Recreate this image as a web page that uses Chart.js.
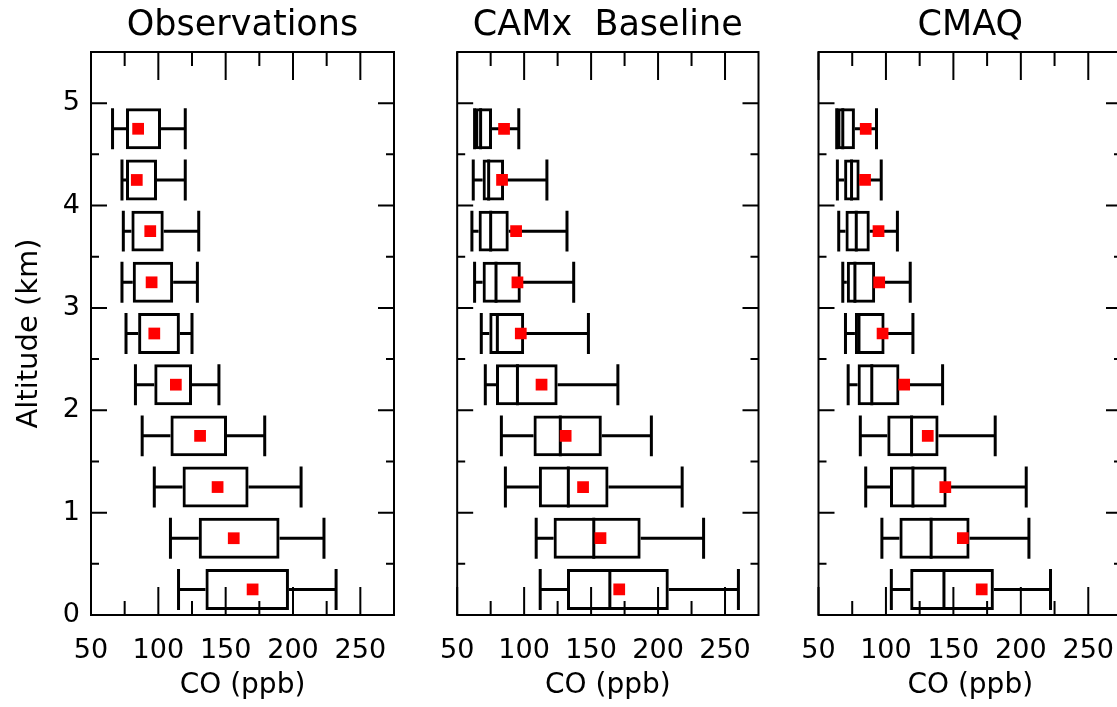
<!DOCTYPE html>
<html><head><meta charset="utf-8">
<script src="https://cdn.jsdelivr.net/npm/chart.js@4.4.1/dist/chart.umd.min.js"></script>
<style>
html,body{margin:0;padding:0;background:#fff;overflow:hidden;width:1117px;height:707px;}
canvas{position:absolute;top:0;}
</style></head><body>
<canvas id="p1" width="420" height="707" style="left:0px"></canvas>
<canvas id="p2" width="360" height="707" style="left:420px"></canvas>
<canvas id="p3" width="360" height="707" style="left:780px"></canvas>
<script>
// ---- data (altitude bins, km) ----
const altitudes = [0.25, 0.75, 1.25, 1.75, 2.25, 2.75, 3.25, 3.75, 4.25, 4.75];
const panelTitles = ['Observations', 'CAMx  Baseline', 'CMAQ'];
const xTickLabels = [50, 100, 150, 200, 250];
const xMinorTicks = [75, 125, 175, 225];
const yTickLabels = [0, 1, 2, 3, 4, 5];
const yMinorTicks = [0.5, 1.5, 2.5, 3.5, 4.5];

// Observations
const obsMin  = [115, 109, 97, 88, 83, 76, 73, 74, 73, 66];
const obsQ1   = [135, 130, 118, 109, 97, 85, 81, 80, 76, 76];
const obsMed  = [null, null, null, null, null, null, null, null, null, null];
const obsQ3   = [197, 190, 167, 151, 125, 116, 111, 104, 99, 102];
const obsMax  = [232, 223, 206, 179, 145, 125, 129, 130, 120, 120];
const obsMean = [170, 156, 144, 131, 113, 97, 95, 94, 84, 85];

// CAMx Baseline
const camxMin  = [112, 109, 86, 83, 71, 68, 63, 61, 62, 63];
const camxQ1   = [132, 122, 111, 107, 79, 74, 69, 66, 69, 63.5];
const camxMed  = [164, 152, 133, 127, 95, 80, 79, 75, 73.5, 67.5];
const camxQ3   = [208, 187, 163, 158, 125, 100, 97.5, 88.5, 85, 76];
const camxMax  = [260, 234, 218, 195, 170, 148, 137, 132, 117, 96];
const camxMean = [171, 157, 144, 131, 113, 97.5, 95, 94, 83.5, 85];

// CMAQ
const cmaqMin  = [104, 97, 85, 81, 72, 70, 68, 65, 64, 63.5];
const cmaqQ1   = [118, 110, 103, 101, 79, 77, 71, 70, 69, 64];
const cmaqMed  = [143, 133.5, 120, 119, 89.5, 80, 77, 78, 74.5, 68];
const cmaqQ3   = [180, 162, 145, 139, 110, 99, 92, 88, 80.5, 77];
const cmaqMax  = [222, 206, 204, 181, 142, 120, 118, 108.5, 96.5, 93];
const cmaqMean = [171, 157, 144, 131, 113.5, 97.5, 95, 94.5, 84.5, 85];

const FONT = 'DejaVu Sans';

const boxPlugin = {
  id: 'boxWhisker',
  beforeDatasetsDraw(chart, args, o) {
    const {ctx} = chart; const x = chart.scales.x, y = chart.scales.y;
    const half = Math.abs(y.getPixelForValue(o.halfHeight) - y.getPixelForValue(0));
    ctx.save();
    ctx.strokeStyle = '#000'; ctx.lineWidth = o.lineWidth; ctx.lineCap = 'butt';
    for (let i = 0; i < o.alt.length; i++) {
      const py = y.getPixelForValue(o.alt[i]);
      const pMin = x.getPixelForValue(o.min[i]), pQ1 = x.getPixelForValue(o.q1[i]);
      const pQ3 = x.getPixelForValue(o.q3[i]), pMax = x.getPixelForValue(o.max[i]);
      ctx.beginPath();
      ctx.moveTo(pMin, py); ctx.lineTo(pQ1, py);
      ctx.moveTo(pQ3, py); ctx.lineTo(pMax, py);
      ctx.moveTo(pMin, py - half); ctx.lineTo(pMin, py + half);
      ctx.moveTo(pMax, py - half); ctx.lineTo(pMax, py + half);
      if (o.med[i] !== null && o.med[i] !== undefined) {
        const pm = x.getPixelForValue(o.med[i]);
        ctx.moveTo(pm, py - half); ctx.lineTo(pm, py + half);
      }
      ctx.stroke();
    }
    ctx.restore();
  }
};

const framePlugin = {
  id: 'frame',
  afterDraw(chart, args, o) {
    const {ctx, chartArea: a} = chart; const x = chart.scales.x, y = chart.scales.y;
    ctx.save();
    ctx.strokeStyle = '#000'; ctx.lineWidth = 2;
    ctx.strokeRect(a.left, a.top, a.right - a.left, a.bottom - a.top);
    ctx.beginPath();
    const xt = (vals, len) => vals.forEach(v => {
      const px = x.getPixelForValue(v);
      ctx.moveTo(px, a.bottom); ctx.lineTo(px, a.bottom - len);
      ctx.moveTo(px, a.top); ctx.lineTo(px, a.top + len);
    });
    const yt = (vals, len) => vals.forEach(v => {
      const py = y.getPixelForValue(v);
      ctx.moveTo(a.left, py); ctx.lineTo(a.left + len, py);
      ctx.moveTo(a.right, py); ctx.lineTo(a.right - len, py);
    });
    xt(xTickLabels, o.xMajor); xt(xMinorTicks, o.xMinor);
    yt(yTickLabels, o.yMajor); yt(yMinorTicks, o.yMinor);
    ctx.stroke();
    // panel title, centred over the plot area
    ctx.fillStyle = '#000';
    ctx.font = 'normal ' + o.titleSize + 'px "' + FONT + '"';
    ctx.textAlign = 'center'; ctx.textBaseline = 'alphabetic';
    ctx.fillText(o.title, (a.left + a.right) / 2, o.titleBaseline);
    ctx.restore();
  }
};

function makePanel(id, title, mn, q1, md, q3, mx, mean, cfg) {
  const boxes = altitudes.map((a, i) => ({y: a, x: [q1[i], q3[i]]}));
  const means = altitudes.map((a, i) => ({y: a, x: mean[i]}));
  new Chart(document.getElementById(id), {
    data: {
      datasets: [
        {type: 'scatter', data: means, pointStyle: 'rect', pointRadius: 8.3,
         backgroundColor: '#ff0000', borderWidth: 0, pointBorderWidth: 0},
        {type: 'bar', indexAxis: 'y', data: boxes, backgroundColor: 'rgba(0,0,0,0)',
         borderColor: '#000', borderWidth: 3, borderSkipped: false,
         barPercentage: 0.8, categoryPercentage: 1.0}
      ]
    },
    options: {
      responsive: false, animation: false, devicePixelRatio: 1,
      events: [],
      layout: {padding: {left: 0, right: cfg.padRight, top: 52, bottom: 0}},
      plugins: {
        legend: {display: false}, tooltip: {enabled: false}, title: {display: false},
        boxWhisker: {alt: altitudes, min: mn, q1: q1, med: md, q3: q3, max: mx,
                     halfHeight: 0.2, lineWidth: 3},
        frame: {xMajor: 28, xMinor: 14, yMajor: 16, yMinor: 8,
                title: title, titleSize: 35, titleBaseline: 35}
      },
      scales: {
        x: {type: 'linear', position: 'bottom', min: 50, max: 275,
            afterBuildTicks: s => { s.ticks = xTickLabels.map(v => ({value: v})); },
            afterFit: s => { s.height = 92; },
            grid: {display: false, drawTicks: false}, border: {display: false},
            ticks: {color: '#000', padding: 20, maxRotation: 0, autoSkip: false,
                    font: {family: FONT, size: 27}},
            title: {display: true, text: 'CO (ppb)', color: '#000',
                    font: {family: FONT, size: 28}, padding: {top: 0, bottom: 4}}},
        y: {type: 'linear', position: 'left', min: 0, max: 5.5, offset: false,
            afterBuildTicks: s => { s.ticks = yTickLabels.map(v => ({value: v})); },
            afterFit: s => { s.width = cfg.yWidth; },
            grid: {display: false, drawTicks: false}, border: {display: false},
            ticks: {display: cfg.showY, color: '#000', padding: 11,
                    font: {family: FONT, size: 27}},
            title: {display: cfg.showY, text: 'Altitude (km)', color: '#000',
                    font: {family: FONT, size: 29}, padding: {top: 12, bottom: 0}}}
      }
    },
    plugins: [boxPlugin, framePlugin]
  });
}

makePanel('p1', panelTitles[0], obsMin, obsQ1, obsMed, obsQ3, obsMax, obsMean,
          {yWidth: 91, padRight: 26, showY: true});
makePanel('p2', panelTitles[1], camxMin, camxQ1, camxMed, camxQ3, camxMax, camxMean,
          {yWidth: 35, padRight: 21.5, showY: false});
makePanel('p3', panelTitles[2], cmaqMin, cmaqQ1, cmaqMed, cmaqQ3, cmaqMax, cmaqMean,
          {yWidth: 38.5, padRight: 18, showY: false});
</script>
</body></html>
